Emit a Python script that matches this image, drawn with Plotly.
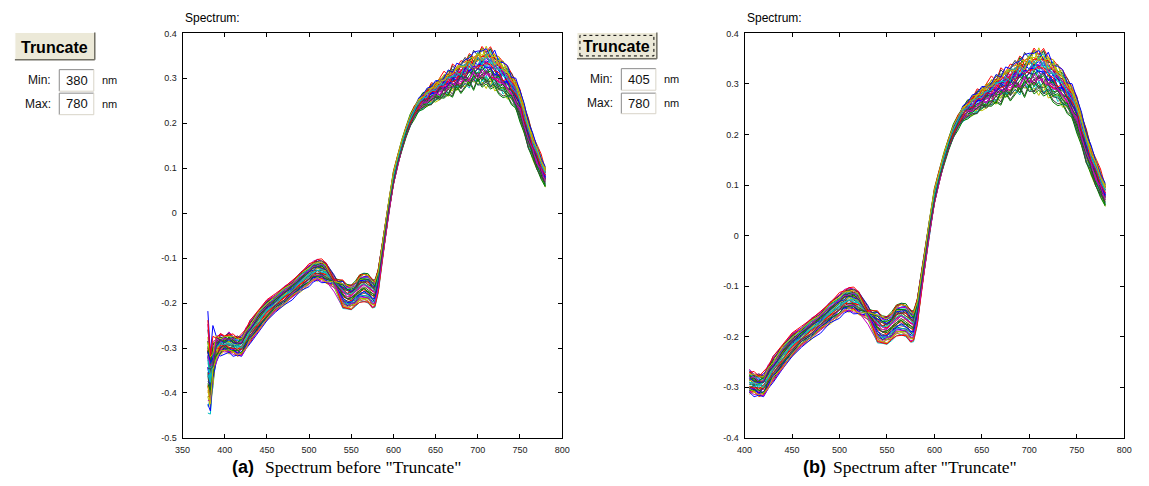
import numpy as np
import plotly.graph_objects as go

# ---------------- data ----------------
WAVELENGTHS = [380, 383, 386, 390, 395, 400, 405, 410, 415, 420, 425, 430, 440, 450, 460,
               470, 480, 490, 500, 505, 510, 515, 520, 530, 540, 545, 550, 555, 560, 565,
               570, 575, 578, 582, 586, 590, 595, 600, 605, 610, 615, 620, 625, 630, 635,
               640, 645, 650, 655, 660, 665, 670, 675, 680, 685, 690, 695, 700, 705, 710,
               715, 720, 725, 730, 735, 740, 745, 750, 755, 760, 765, 770, 775, 780]
# centre of the bundle of spectra
BUNDLE_MEAN = [-0.34, -0.37, -0.33, -0.30, -0.293, -0.29, -0.29, -0.293, -0.297, -0.295,
               -0.28, -0.265, -0.24, -0.217, -0.2, -0.185, -0.17, -0.153, -0.138, -0.13,
               -0.127, -0.128, -0.133, -0.155, -0.18, -0.187, -0.187, -0.18, -0.168, -0.165,
               -0.168, -0.178, -0.18, -0.15, -0.095, -0.045, 0.02, 0.075, 0.115, 0.15,
               0.18, 0.205, 0.225, 0.24, 0.25, 0.257, 0.264, 0.27, 0.277, 0.283,
               0.289, 0.295, 0.3, 0.305, 0.31, 0.315, 0.319, 0.322, 0.325, 0.325,
               0.322, 0.315, 0.308, 0.3, 0.29, 0.278, 0.262, 0.24, 0.21, 0.175,
               0.148, 0.125, 0.102, 0.08]
# half width of the bundle
BUNDLE_HALF = [0.075, 0.05, 0.04, 0.025, 0.02, 0.02, 0.022, 0.022, 0.022, 0.022,
               0.023, 0.025, 0.025, 0.023, 0.02, 0.02, 0.02, 0.022, 0.023, 0.023,
               0.024, 0.024, 0.024, 0.026, 0.03, 0.028, 0.027, 0.028, 0.03, 0.032,
               0.033, 0.032, 0.03, 0.025, 0.02, 0.018, 0.018, 0.018, 0.016, 0.015,
               0.016, 0.017, 0.018, 0.018, 0.019, 0.02, 0.021, 0.022, 0.023, 0.025,
               0.026, 0.027, 0.028, 0.03, 0.031, 0.033, 0.035, 0.037, 0.04, 0.042,
               0.04, 0.04, 0.038, 0.037, 0.034, 0.032, 0.033, 0.035, 0.033, 0.03,
               0.029, 0.028, 0.025, 0.022]
# how jagged the individual spectra are at each wavelength
ROUGHNESS = [0.012, 0.02, 0.02, 0.012, 0.008, 0.005, 0.005, 0.005, 0.005, 0.005,
             0.005, 0.005, 0.003, 0.003, 0.003, 0.003, 0.003, 0.003, 0.003, 0.003,
             0.003, 0.003, 0.003, 0.003, 0.003, 0.003, 0.003, 0.003, 0.003, 0.003,
             0.003, 0.003, 0.002, 0.002, 0.002, 0.002, 0.002, 0.002, 0.002, 0.002,
             0.002, 0.002, 0.003, 0.004, 0.006, 0.006, 0.006, 0.007, 0.008, 0.01,
             0.01, 0.01, 0.01, 0.011, 0.011, 0.012, 0.012, 0.012, 0.012, 0.012,
             0.012, 0.011, 0.01, 0.01, 0.008, 0.007, 0.007, 0.007, 0.007, 0.007,
             0.006, 0.006, 0.006, 0.005]
WIGGLE = [0.8, -0.6, 0.3, -0.9, 0.5, -0.2, 1.0, -0.7, 0.1, -0.4, 0.7, -1.0,
          0.4, -0.3, 0.9, -0.5, 0.2, -0.8, 0.6, -0.1, 0.0, -0.6, 0.5]
# position of each spectrum inside the bundle in successive regions
LEVEL_START = [1.5, -0.5, 0.4, -1.3, 0.0, 0.8, -0.9, 0.2, -0.3, 0.6, -1.1, 0.3, -0.6, 1.0,
               -0.2, 0.5, -0.8, 0.1, 0.9, -1.0, 0.4, -0.4, 0.7, -0.7, 0.0, 1.1, -0.5, 0.3,
               -1.2, 0.6, -0.1, 0.2, -0.9, 0.8, -0.3, 0.5, -0.6, 1.2, -0.2, 0.3, -0.8, 0.1]
LEVEL_VIS = [0.9, -0.6, 0.3, -0.1, 0.6, -0.9, 0.1, 0.5, -0.4, 0.8, -0.2, -0.7, 0.4, 0.0,
             -0.5, 0.7, -0.8, 0.2, 0.95, -0.3, 0.55, -1.0, 0.35, -0.15, 0.65, -0.45, 0.15, 0.85,
             -0.65, 0.45, -0.25, 0.05, -0.85, 0.75, -0.35, 0.25, -0.55, 1.0, -0.05, 0.5, -0.75, 0.3]
LEVEL_DIP = [0.2, 0.9, -0.4, 0.6, -0.8, 0.0, 0.5, -0.6, 1.0, -0.2, 0.7, -0.9, 0.3, -0.5,
             0.8, -0.1, 0.4, -1.0, 0.1, 0.6, -0.3, 0.9, -0.7, 0.2, -0.4, 0.75, -0.85, 0.35,
             0.55, -0.15, 0.95, -0.55, 0.15, -0.75, 0.45, -0.35, 0.65, -0.95, 0.25, -0.65, 0.85, -0.05]
LEVEL_RED = [0.4, -0.2, 1.0, -0.7, 0.1, 0.6, -0.9, 0.3, 0.8, -0.4, 0.0, 0.5, -0.6, 0.9,
             -0.1, -0.5, 0.2, 0.7, -0.3, -0.85, 0.45, 0.15, -0.25, 0.65, -0.75, 0.35, 0.85, -0.55,
             0.05, -1.0, 0.55, 0.25, -0.45, 0.75, -0.15, 0.95, -0.65, 0.1, 0.4, -0.35, 0.6, -0.8]
REGION_EDGES = [386, 395, 520, 540, 585, 640]

TRUNC_BEFORE = (380, 780)
TRUNC_AFTER = (405, 780)
X_TICKS_A = [350, 400, 450, 500, 550, 600, 650, 700, 750, 800]
Y_TICKS_A = [-0.5, -0.4, -0.3, -0.2, -0.1, 0, 0.1, 0.2, 0.3, 0.4]
X_TICKS_B = [400, 450, 500, 550, 600, 650, 700, 750, 800]
Y_TICKS_B = [-0.4, -0.3, -0.2, -0.1, 0, 0.1, 0.2, 0.3, 0.4]

COLORS = ["#0000ff", "#008000", "#ff0000", "#00bfbf", "#bf00bf", "#bfbf00", "#404040"]

# ---------------- build spectra ----------------
wl = np.array(WAVELENGTHS, dtype=float)
mean = np.array(BUNDLE_MEAN)
half = np.array(BUNDLE_HALF)
rough = np.array(ROUGHNESS)
nw = len(WIGGLE)
spectra = []
for i, (a, b, c, d) in enumerate(zip(LEVEL_START, LEVEL_VIS, LEVEL_DIP, LEVEL_RED)):
    lev = np.interp(wl, REGION_EDGES, [a, b, b, c, c, d])
    wig = np.array([WIGGLE[(7 * i + 3 * j) % nw] for j in range(len(wl))])
    spectra.append(mean + lev * half + rough * wig)

W, H = 1149, 486


def fx(px):
    return px / W


def fy(py):
    return 1 - py / H


def fmt(v):
    return "%g" % v


fig = go.Figure()
for i, s in enumerate(spectra):
    col = COLORS[i % len(COLORS)]
    m = (wl >= TRUNC_BEFORE[0]) & (wl <= TRUNC_BEFORE[1])
    fig.add_trace(go.Scatter(x=wl[m], y=s[m], mode="lines", line=dict(color=col, width=1),
                             xaxis="x", yaxis="y", showlegend=False, hoverinfo="skip"))
for i, s in enumerate(spectra):
    col = COLORS[i % len(COLORS)]
    m = (wl >= TRUNC_AFTER[0]) & (wl <= TRUNC_AFTER[1])
    fig.add_trace(go.Scatter(x=wl[m], y=s[m], mode="lines", line=dict(color=col, width=1),
                             xaxis="x2", yaxis="y2", showlegend=False, hoverinfo="skip"))

tickfont = dict(family="Arial, Liberation Sans", size=9, color="#222")
axis_common = dict(showline=True, linecolor="#000", linewidth=1, mirror="ticks",
                   ticks="inside", ticklen=4, tickcolor="#000", showgrid=False,
                   zeroline=False, tickfont=tickfont, fixedrange=True, ticklabelstandoff=3)

ydom = [fy(442), fy(29)]
fig.update_layout(
    width=W, height=H, margin=dict(l=0, r=0, t=0, b=0),
    paper_bgcolor="white", plot_bgcolor="white",
    xaxis=dict(domain=[fx(177), fx(562)], range=[350, 800], tickvals=X_TICKS_A,
               ticktext=[fmt(v) for v in X_TICKS_A], anchor="y", **axis_common),
    yaxis=dict(domain=ydom, range=[-0.5, 0.4], tickvals=Y_TICKS_A,
               ticktext=[fmt(v) for v in Y_TICKS_A], anchor="x", **axis_common),
    xaxis2=dict(domain=[fx(747), fx(1132)], range=[400, 800], tickvals=X_TICKS_B,
                ticktext=[fmt(v) for v in X_TICKS_B], anchor="y2", **axis_common),
    yaxis2=dict(domain=ydom, range=[-0.4, 0.4], tickvals=Y_TICKS_B,
                ticktext=[fmt(v) for v in Y_TICKS_B], anchor="x2", **axis_common),
)

shapes = []
annotations = []


def rect(x0, y0, x1, y1, fill=None, line=None, width=1, dash=None):
    d = dict(type="rect", xref="paper", yref="paper", x0=fx(x0), x1=fx(x1), y0=fy(y1), y1=fy(y0),
             line=dict(width=width if line else 0, color=line or "rgba(0,0,0,0)"), layer="above")
    if dash:
        d["line"]["dash"] = dash
    if fill:
        d["fillcolor"] = fill
    shapes.append(d)


def seg(x0, y0, x1, y1, color, width=1):
    shapes.append(dict(type="line", xref="paper", yref="paper", x0=fx(x0), x1=fx(x1),
                       y0=fy(y0), y1=fy(y1), line=dict(color=color, width=width), layer="above"))


def text(x, y, s, size=12, family="Arial, Liberation Sans", xanchor="left", color="#000", bold=False):
    if bold:
        s = "<b>" + s + "</b>"
    annotations.append(dict(x=fx(x), y=fy(y), xref="paper", yref="paper", text=s, showarrow=False,
                            xanchor=xanchor, yanchor="middle",
                            font=dict(size=size, family=family, color=color)))


def button(x0, y0, x1, y1, focused):
    rect(x0, y0, x1, y1, fill="#ECE9D8")
    seg(x0, y0, x1, y0, "#ffffff")
    seg(x0, y0, x0, y1, "#ffffff")
    seg(x0, y1, x1, y1, "#716F64", 1.5)
    seg(x1, y0, x1, y1, "#716F64", 1.5)
    if focused:
        rect(x0 + 3, y0 + 3, x1 - 3, y1 - 3, line="#000", dash="dot")
    text((x0 + x1) / 2, (y0 + y1) / 2 + 1, "Truncate", size=16, xanchor="center", bold=True)


def editbox(x0, y0, x1, y1, label, value):
    rect(x0, y0, x1, y1, fill="#ffffff")
    seg(x0, y0, x1, y0, "#8a8a8a")
    seg(x0, y0, x0, y1, "#8a8a8a")
    seg(x0, y1, x1, y1, "#d8d4c8")
    seg(x1, y0, x1, y1, "#d8d4c8")
    cy = (y0 + y1) / 2
    text(x0 - 6, cy, label, size=12, xanchor="right", color="#111")
    text((x0 + x1) / 2, cy, str(value), size=13, xanchor="center", color="#111")
    text(x1 + 6, cy, "nm", size=11, color="#111")


# panel (a) controls
button(7, 28, 88, 56, False)
editbox(52, 66, 87, 88, "Min:", TRUNC_BEFORE[0])
editbox(52, 90, 87, 112, "Max:", TRUNC_BEFORE[1])
# panel (b) controls
button(577, 28, 658, 55, True)
editbox(622, 65, 657, 87, "Min:", TRUNC_AFTER[0])
editbox(622, 90, 657, 111, "Max:", TRUNC_AFTER[1])

# titles
text(177, 13, "Spectrum:", size=12)
text(747, 13, "Spectrum:", size=12)

# captions
text(225, 472, "(a)", size=18, bold=True)
text(259, 472, "Spectrum before \"Truncate\"", size=17.5, family="Liberation Serif, Times New Roman")
text(804, 472, "(b)", size=18, bold=True)
text(835, 472, "Spectrum after \"Truncate\"", size=17.5, family="Liberation Serif, Times New Roman")

fig.update_layout(shapes=shapes, annotations=annotations)
fig.write_html("out.html", config={"displayModeBar": False})
